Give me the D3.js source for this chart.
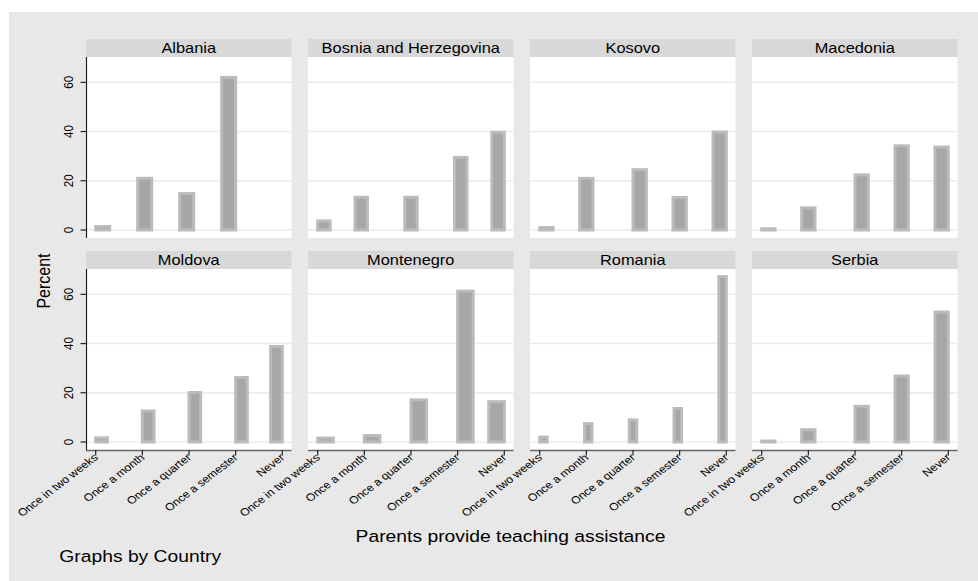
<!DOCTYPE html>
<html>
<head>
<meta charset="utf-8">
<script src="https://cdn.jsdelivr.net/npm/d3@7"></script>
<style>
  html, body { margin: 0; padding: 0; background: #ffffff; }
  svg { display: block; }
  text { font-family: "Liberation Sans", Arial, Helvetica, sans-serif; fill: #000; }
</style>
</head>
<body>
<svg id="chart" width="978" height="581"></svg>
<script>
// ---- data ----
const categories = ["Once in two weeks", "Once a month", "Once a quarter", "Once a semester", "Never"];
const countries = ["Albania", "Bosnia and Herzegovina", "Kosovo", "Macedonia",
                   "Moldova", "Montenegro", "Romania", "Serbia"];
// percent of respondents per category (null = no observations)
const albania     = [1.4, 21.0, 14.8, 62.0, null];
const bosnia      = [3.7, 13.3, 13.3, 29.5, 39.7];
const kosovo      = [1.0, 21.0, 24.5, 13.2, 39.8];
const macedonia   = [0.5,  9.0, 22.4, 34.2, 33.7];
const moldova     = [1.7, 12.6, 20.1, 26.2, 38.8];
const montenegro  = [1.6,  2.6, 17.1, 61.3, 16.4];
const romania     = [2.0,  7.5,  9.0, 13.6, 67.2];
const serbia      = [0.4,  5.0, 14.5, 26.8, 52.8];
const percentSeries = [albania, bosnia, kosovo, macedonia, moldova, montenegro, romania, serbia];
// histogram bin counts used per country panel
const binCounts = [10, 15, 14, 14, 16, 12, 25, 14];
const yTicks = [0, 20, 40, 60];
const xTicks = [1, 2, 3, 4, 5];

// ---- layout ----
const W = 978, H = 581;
const STRETCH = 1.17;
const panelW = 205.5, pitchX = 222;
const firstLeft = 86, firstTop = 39, pitchY = 212;
const headerH = 18, plotH = 181;

const svg = d3.select("#chart");
svg.append("rect").attr("x", 9).attr("y", 12).attr("width", W - 9).attr("height", H - 12)
   .attr("fill", "#e8e8e8");

function sText(parent, x, y, txt, size, anchor, rot) {
  const t = parent.append("text")
    .attr("transform", `translate(${x},${y}) scale(${STRETCH},1)` + (rot ? ` rotate(${rot})` : ""))
    .attr("text-anchor", anchor)
    .attr("font-size", size)
    .text(txt);
  return t;
}

countries.forEach((country, k) => {
  const col = k % 4, row = Math.floor(k / 4);
  const left = firstLeft + col * pitchX;
  const hTop = firstTop + row * pitchY;
  const pTop = hTop + headerH;
  const pBot = pTop + plotH;
  const g = svg.append("g");

  // header strip
  g.append("rect").attr("x", left).attr("y", hTop).attr("width", panelW).attr("height", headerH)
    .attr("fill", "#d8d8d8");
  sText(g, left + panelW / 2, hTop + 13.6, country, 14, "middle");

  // plot area
  g.append("rect").attr("x", left).attr("y", pTop).attr("width", panelW).attr("height", plotH)
    .attr("fill", "#ffffff");

  const y = d3.scaleLinear().domain([-3.25, 70.3]).range([pBot, pTop]);
  const x = d3.scaleLinear().domain([1, 5]).range([left + 9.7, left + 196.3]);

  // gridlines
  g.selectAll(".grid").data(yTicks).join("line")
    .attr("x1", left).attr("x2", left + panelW)
    .attr("y1", d => y(d)).attr("y2", d => y(d))
    .attr("stroke", "#ebebeb").attr("stroke-width", 1.5);

  // histogram bars
  const vals = percentSeries[k];
  const nb = binCounts[k];
  let maxCat = 0;
  vals.forEach((v, i) => { if (v !== null) maxCat = i + 1; });
  const bw = (maxCat - 1) / nb;
  const bars = vals.map((v, i) => {
    if (v === null) return null;
    const idx = Math.min(nb - 1, Math.floor((i) / bw + 1e-9));
    const lo = 1 + idx * bw;
    return { lo: lo, hi: lo + bw, v: v };
  }).filter(d => d !== null);

  g.selectAll(".bar").data(bars).join("rect")
    .attr("x", d => x(d.lo)).attr("width", d => x(d.hi) - x(d.lo))
    .attr("y", d => y(d.v)).attr("height", d => y(0) - y(d.v))
    .attr("fill", "#a7a7a7").attr("stroke", "#bbbbbb").attr("stroke-width", 3);

  // y axis on left column
  if (col === 0) {
    g.append("line").attr("x1", left + 0.5).attr("x2", left + 0.5)
      .attr("y1", pTop).attr("y2", pBot).attr("stroke", "#222").attr("stroke-width", 1.2);
    yTicks.forEach(t => {
      g.append("line").attr("x1", left - 5.5).attr("x2", left)
        .attr("y1", y(t)).attr("y2", y(t)).attr("stroke", "#222").attr("stroke-width", 1.2);
      sText(g, left - 13, y(t), String(t), 11.5, "middle", -90);
    });
  }

  // x axis on bottom row
  if (row === 1) {
    g.append("line").attr("x1", left).attr("x2", left + panelW)
      .attr("y1", pBot + 0.5).attr("y2", pBot + 0.5).attr("stroke", "#666").attr("stroke-width", 1.5);
    xTicks.forEach((t, i) => {
      g.append("line").attr("x1", x(t)).attr("x2", x(t))
        .attr("y1", pBot).attr("y2", pBot + 5.5).attr("stroke", "#222").attr("stroke-width", 1.2);
      sText(g, x(t) + 3, pBot + 8.5, categories[i], 10.5, "end", -42);
    });
  }
});

// titles
sText(svg, 50, 281, "Percent", 16, "middle", -90);
sText(svg, 510.5, 541.7, "Parents provide teaching assistance", 16.5, "middle");
sText(svg, 59.3, 561.5, "Graphs by Country", 16.5, "start");
</script>
</body>
</html>
